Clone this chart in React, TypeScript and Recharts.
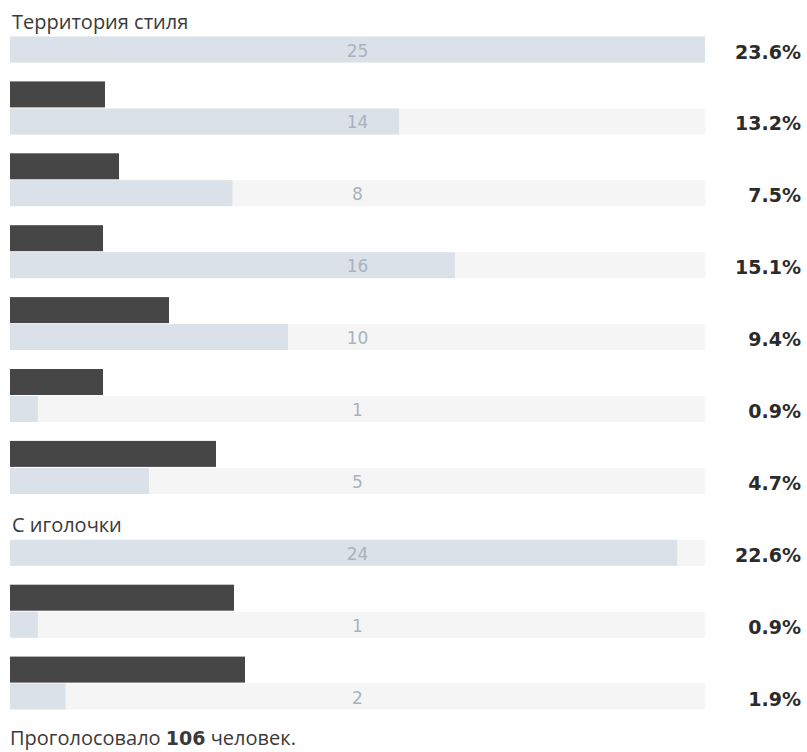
import React from 'react';
import { BarChart, Bar, XAxis, YAxis, LabelList } from 'recharts';

// ---- data ----
const optionLabels: (string | null)[] = [
  'Территория стиля',
  null,
  null,
  null,
  null,
  null,
  null,
  'С иголочки',
  null,
  null,
];
const optionVotes: number[] = [25, 14, 8, 16, 10, 1, 5, 24, 1, 2];
const totalVoters = 106;
const footerPrefix = 'Проголосовало';
const footerSuffix = 'человек.';

// ---- style constants (redacted label boxes) ----
const REDACTED_W = [0, 95, 109, 93, 159, 93, 206, 0, 224, 235];

const data = optionVotes.map((v, i) => ({
  key: `opt${i}`,
  label: optionLabels[i],
  votes: v,
}));

const W = 807;
const H = 752;
const M = { top: 13.5, right: 102, bottom: 19.5, left: 10 };
const trackCenter = M.left + (W - M.left - M.right) / 2;

const renderRowLabels = (props: any) => {
  const y = Number(props.y);
  const h = Number(props.height);
  const idx = Number(props.index);
  const value = Number(props.value);
  const cy = y + h / 2;
  const pct = ((value / totalVoters) * 100).toFixed(1) + '%';
  const label = data[idx]?.label;
  return (
    <g>
      {label ? (
        <text x={12} y={y - 8} fontFamily="'Open Sans', sans-serif" fontSize={20} fill="#3a3a3a">
          {label}
        </text>
      ) : (
        <rect x={10} y={y - 27} width={REDACTED_W[idx]} height={26} fill="#464646" />
      )}
      <text
        x={trackCenter}
        y={cy + 7}
        textAnchor="middle"
        fontFamily="'DejaVu Sans', sans-serif"
        fontSize={17}
        fill="#a9b3bd"
      >
        {value}
      </text>
      <text
        x={801}
        y={cy + 9}
        textAnchor="end"
        fontFamily="'DejaVu Sans', sans-serif"
        fontWeight="bold"
        fontSize={19}
        fill="#2b2b2b"
      >
        {pct}
      </text>
    </g>
  );
};

export default function App() {
  return (
    <div style={{ position: 'absolute', left: 0, top: 0, width: W, height: H, background: '#fff' }}>
      <BarChart layout="vertical" width={W} height={H} data={data} margin={M}>
        <XAxis type="number" domain={[0, Math.max(...optionVotes)]} hide />
        <YAxis type="category" dataKey="key" hide />
        <Bar
          dataKey="votes"
          fill="#dae1e8"
          barSize={26}
          background={{ fill: '#f5f5f5' }}
          isAnimationActive={false}
        >
          <LabelList dataKey="votes" content={renderRowLabels} />
        </Bar>
      </BarChart>
      <div
        style={{
          position: 'absolute',
          left: 10,
          top: 724,
          fontFamily: "'Open Sans', sans-serif",
          fontSize: 20,
          color: '#3a3a3a',
          whiteSpace: 'nowrap',
        }}
      >
        {footerPrefix} <b style={{ fontFamily: "'DejaVu Sans', sans-serif", fontSize: 19 }}>{totalVoters}</b> {footerSuffix}
      </div>
    </div>
  );
}
